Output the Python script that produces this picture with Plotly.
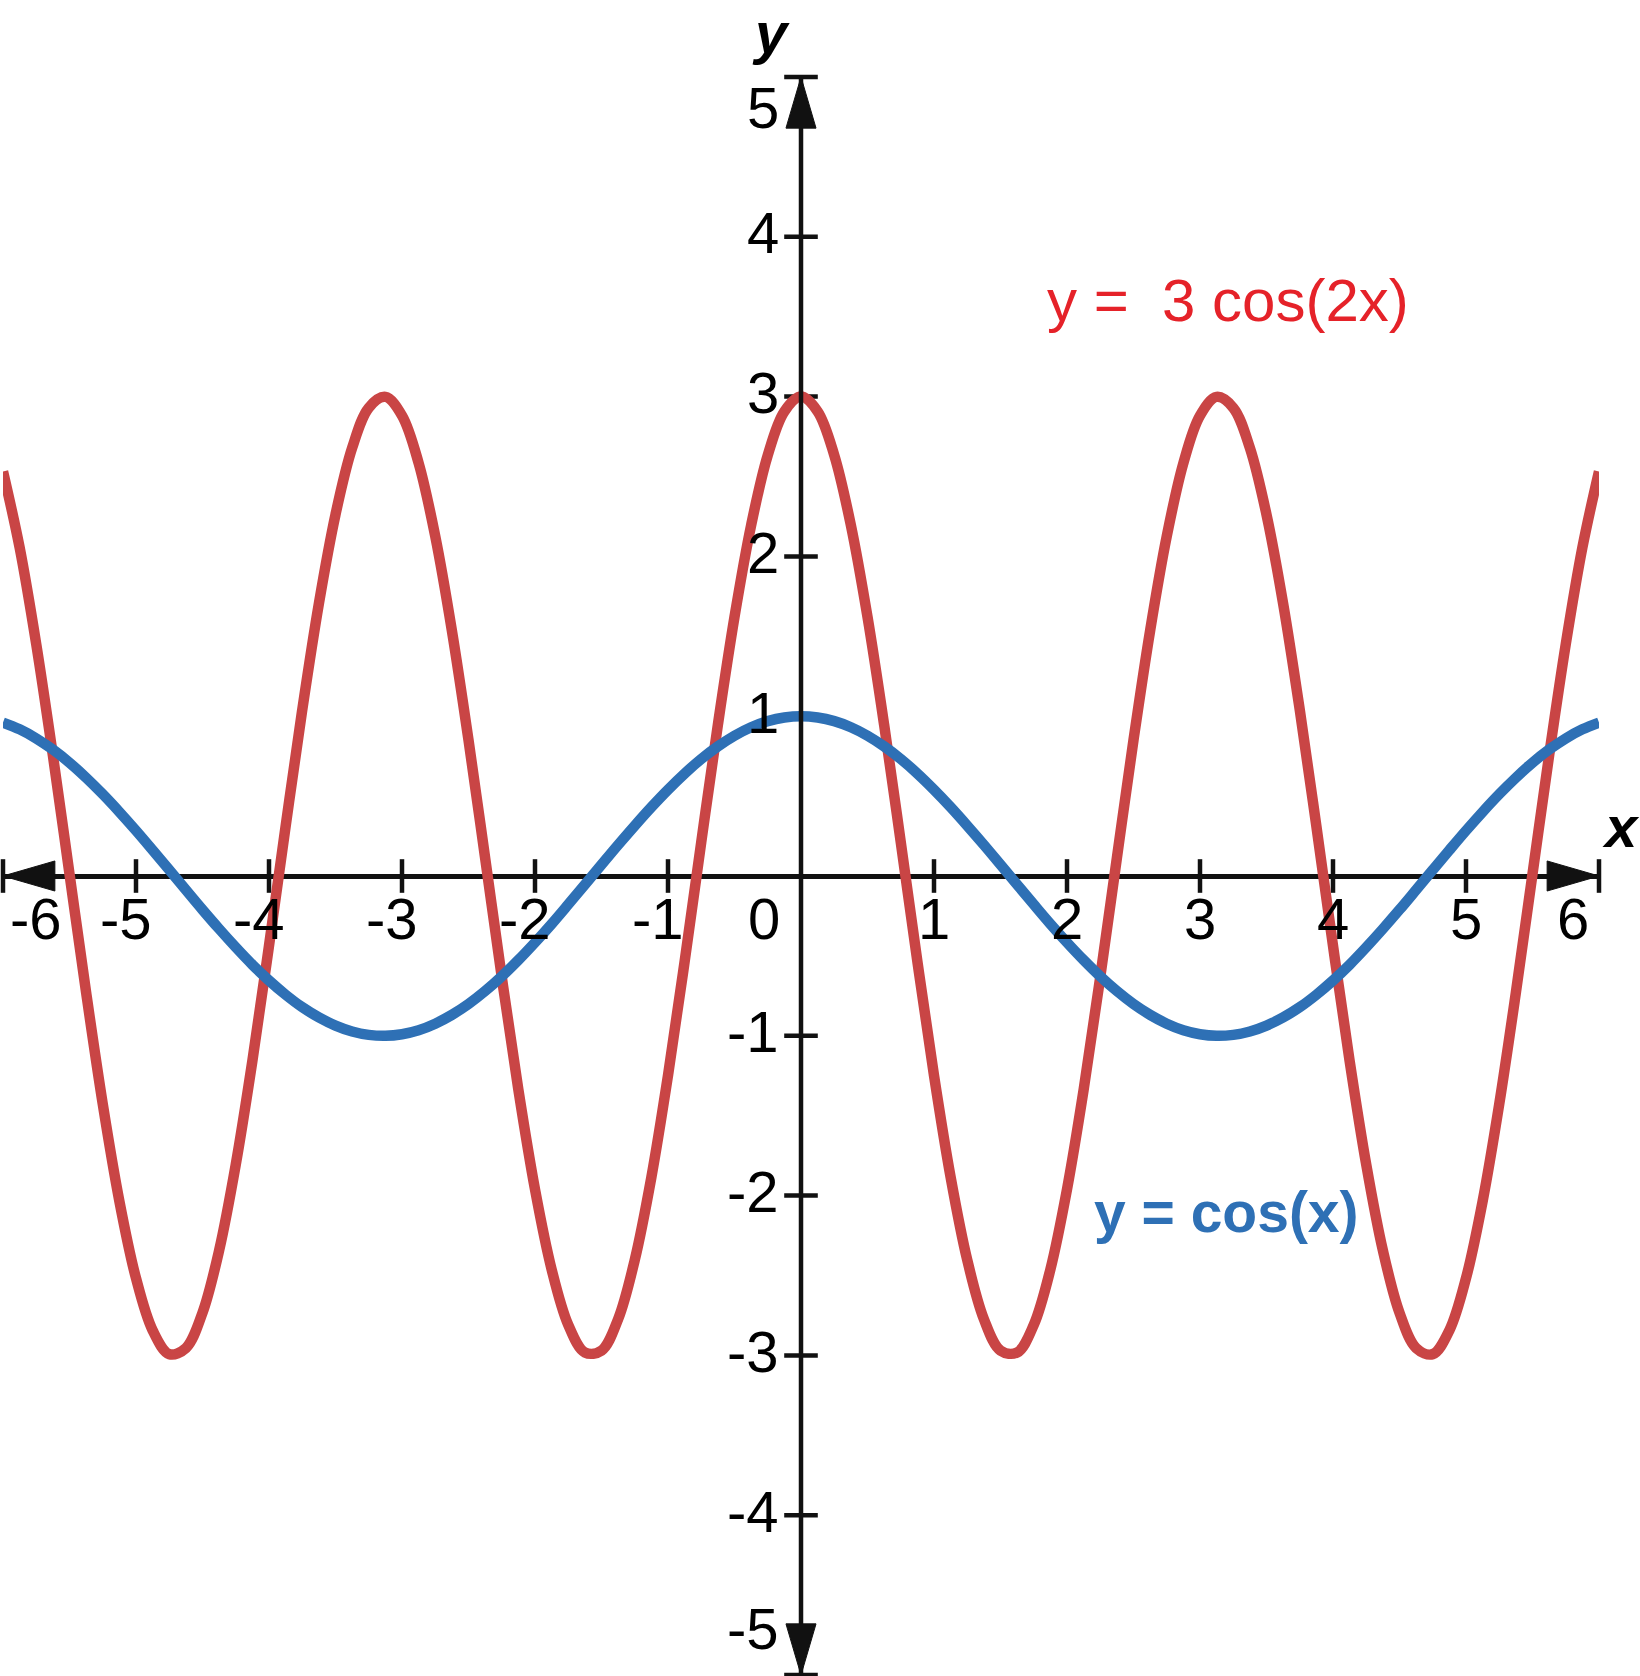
import plotly.graph_objects as go

# %%
# sample points (step 0.125 on x, mirrored about x = 0)
x_vals = [i * 0.125 for i in range(-48, 49)]

cos_half = [1.000, 0.992, 0.969, 0.931, 0.878, 0.811, 0.732, 0.641, 0.540, 0.431,
            0.315, 0.195, 0.071, -0.054, -0.178, -0.300, -0.416, -0.526, -0.628, -0.720,
            -0.801, -0.869, -0.924, -0.965, -0.990, -1.000, -0.994, -0.973, -0.936, -0.885,
            -0.821, -0.743, -0.654, -0.555, -0.446, -0.331, -0.211, -0.087, 0.038, 0.162,
            0.284, 0.401, 0.512, 0.615, 0.709, 0.791, 0.861, 0.918, 0.960]
cos_x = cos_half[:0:-1] + cos_half

red_half = [3.000, 2.907, 2.633, 2.195, 1.621, 0.946, 0.212, -0.535, -1.248, -1.885,
            -2.403, -2.773, -2.970, -2.982, -2.809, -2.462, -1.961, -1.338, -0.632, 0.113,
            0.851, 1.536, 2.126, 2.584, 2.881, 2.998, 2.930, 2.679, 2.262, 1.705,
            1.040, 0.311, -0.437, -1.157, -1.806, -2.343, -2.733, -2.954, -2.992, -2.843,
            -2.517, -2.035, -1.427, -0.729, 0.013, 0.755, 1.450, 2.055, 2.532]
cos_2x = red_half[:0:-1] + red_half

x_ticks = [-6, -5, -4, -3, -2, -1, 1, 2, 3, 4, 5, 6]
x_tick_text = ["-6", "-5", "-4", "-3", "-2", "-1", "1", "2", "3", "4", "5", "6"]
y_ticks = [-5, -4, -3, -2, -1, 1, 2, 3, 4, 5]
y_tick_text = ["-5", "-4", "-3", "-2", "-1", "1", "2", "3", "4", "5"]

red_label = "y =  3 cos(2x)"
blue_label = "y = cos(x)"

X_END = 6
Y_END = 5

# %%
RED = "#c94545"
BLUE = "#2e70b5"
AXIS = "#111111"
FONT = "Liberation Sans, Arial, sans-serif"

fig = go.Figure()

# tick marks crossing the axes
fig.add_trace(go.Scatter(
    x=x_ticks, y=[0] * len(x_ticks), mode="markers", cliponaxis=False,
    marker=dict(symbol="line-ns", size=24, line=dict(width=4.5, color=AXIS)),
    hoverinfo="skip",
))
fig.add_trace(go.Scatter(
    x=[0] * len(y_ticks), y=y_ticks, mode="markers", cliponaxis=False,
    marker=dict(symbol="line-ew", size=24, line=dict(width=4.5, color=AXIS)),
    hoverinfo="skip",
))

fig.add_trace(go.Scatter(
    x=x_vals, y=cos_2x, mode="lines",
    line=dict(color=RED, width=10.5, shape="spline", smoothing=1),
))
fig.add_trace(go.Scatter(
    x=x_vals, y=cos_x, mode="lines",
    line=dict(color=BLUE, width=10.5, shape="spline", smoothing=1),
))

# vertical axis sits on top of the curves
fig.add_trace(go.Scatter(
    x=[0, 0], y=[-Y_END, Y_END], mode="lines", cliponaxis=False,
    line=dict(color=AXIS, width=4.5), hoverinfo="skip",
))

# arrow heads at the axis ends
hl_x, hh_y = 0.39, 0.094   # head length / half height on the x axis
hl_y, hh_x = 0.32, 0.113   # same for the y axis
arrow_x = [X_END, X_END - hl_x, X_END - hl_x, X_END, None,
           -X_END, -X_END + hl_x, -X_END + hl_x, -X_END, None,
           0, hh_x, -hh_x, 0, None,
           0, hh_x, -hh_x, 0]
arrow_y = [0, hh_y, -hh_y, 0, None,
           0, hh_y, -hh_y, 0, None,
           Y_END, Y_END - hl_y, Y_END - hl_y, Y_END, None,
           -Y_END, -Y_END + hl_y, -Y_END + hl_y, -Y_END]
fig.add_trace(go.Scatter(
    x=arrow_x, y=arrow_y, mode="lines", fill="toself", fillcolor=AXIS,
    line=dict(color=AXIS, width=1), cliponaxis=False, hoverinfo="skip",
))

# %%
annotations = []
for v, t in zip(x_ticks, x_tick_text):
    shift = -10 if v < 0 else 0
    if v == -X_END:
        shift = 33
    if v == X_END:
        shift = -26
    annotations.append(dict(
        x=v, y=0, text=t, showarrow=False, xanchor="center", yanchor="middle",
        xshift=shift, yshift=-42, font=dict(size=58, color="black", family=FONT),
    ))
annotations.append(dict(
    x=0, y=0, text="0", showarrow=False, xanchor="right", yanchor="middle",
    xshift=-19, yshift=-42, font=dict(size=58, color="black", family=FONT),
))
for v, t in zip(y_ticks, y_tick_text):
    ys = 4
    if v == Y_END:
        ys = -30
    if v == -Y_END:
        ys = 47
    annotations.append(dict(
        x=0, y=v, text=t, showarrow=False, xanchor="right", yanchor="middle",
        xshift=-20, yshift=ys, font=dict(size=58, color="black", family=FONT),
    ))

annotations.append(dict(
    x=0, y=Y_END, text="<b><i>y</i></b>", showarrow=False, xanchor="center",
    yanchor="middle", xshift=-30, yshift=45, font=dict(size=58, color="black", family=FONT),
))
annotations.append(dict(
    x=X_END, y=0, text="<b><i>x</i></b>", showarrow=False, xanchor="center",
    yanchor="middle", xshift=22, yshift=50, font=dict(size=58, color="black", family=FONT),
))
annotations.append(dict(
    x=3.21, y=3.6, text=red_label, showarrow=False, xanchor="center", yanchor="middle",
    font=dict(size=60, color="#e52229", family=FONT),
))
annotations.append(dict(
    x=3.2, y=-2.1, text="<b>" + blue_label + "</b>", showarrow=False,
    xanchor="center", yanchor="middle",
    font=dict(size=57, color=BLUE, family=FONT),
))

fig.update_layout(
    width=1640, height=1676, autosize=False,
    margin=dict(l=3, r=41, t=77, b=1),
    paper_bgcolor="white", plot_bgcolor="white",
    showlegend=False, annotations=annotations,
)
fig.update_xaxes(range=[-X_END, X_END], showgrid=False, showticklabels=False,
                 ticks="", showline=False, zeroline=False)
fig.update_yaxes(range=[-Y_END, Y_END], showgrid=False, showticklabels=False,
                 ticks="", showline=False, zeroline=True, zerolinecolor=AXIS,
                 zerolinewidth=4.5)

fig.write_html("out.html", config={"displayModeBar": False},
               post_script="document.body.style.margin = '0';")
